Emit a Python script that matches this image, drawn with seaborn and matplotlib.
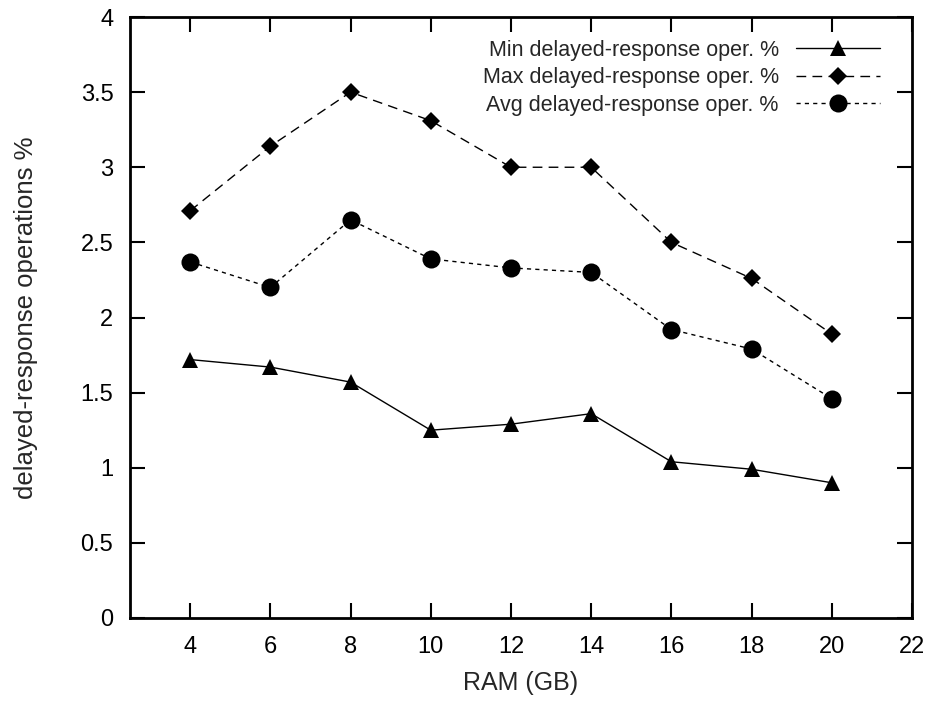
import matplotlib
matplotlib.use("Agg")
import matplotlib.pyplot as plt
import seaborn as sns
import pandas as pd

ram_gb = [4, 6, 8, 10, 12, 14, 16, 18, 20]
min_pct = [1.72, 1.67, 1.57, 1.25, 1.29, 1.36, 1.04, 0.99, 0.90]
max_pct = [2.71, 3.14, 3.50, 3.31, 3.00, 3.00, 2.50, 2.26, 1.89]
avg_pct = [2.37, 2.20, 2.65, 2.39, 2.33, 2.30, 1.92, 1.79, 1.46]
labels = ["Min delayed-response oper. %", "Max delayed-response oper. %",
          "Avg delayed-response oper. %"]
x_ticks = [4, 6, 8, 10, 12, 14, 16, 18, 20, 22]
y_ticks = [0, 0.5, 1, 1.5, 2, 2.5, 3, 3.5, 4]

FS_LEG = 15.5
FS_TICK = 17
FS_XLAB = 18
FS_YLAB = 18.5
sns.set_style("ticks")
plt.rcParams["font.family"] = ["Liberation Sans", "DejaVu Sans"]
plt.rcParams["font.size"] = FS_LEG

fig = plt.figure(figsize=(9.33, 7.02), dpi=100)
ax = fig.add_axes([130/933, 1 - 618/702, (912-130)/933, (618-17)/702])

df = pd.DataFrame({"ram": ram_gb, "min": min_pct, "max": max_pct, "avg": avg_pct})

specs = [
    ("min", labels[0], "^", 11, "-"),
    ("max", labels[1], "D", 9.5, (0, (7, 4.5))),
    ("avg", labels[2], "o", 13, (0, (3, 3))),
]
for col, lab, mk, ms, ls in specs:
    sns.lineplot(data=df, x="ram", y=col, ax=ax, color="black", marker=mk,
                 markersize=ms, markeredgewidth=0, linewidth=1.0,
                 linestyle=ls, label=lab)

ax.set_xlim(2.5, 22)
ax.set_ylim(0, 4)
ax.set_xticks(x_ticks)
ax.set_yticks(y_ticks)
ax.set_yticklabels(["0", "0.5", "1", "1.5", "2", "2.5", "3", "3.5", "4"])
ax.tick_params(direction="in", length=11, width=1.5, top=True, right=True,
               labelsize=FS_TICK, colors="black")
ax.tick_params(axis="x", pad=13)
ax.tick_params(axis="y", pad=12)
for s in ax.spines.values():
    s.set_linewidth(2)
    s.set_color("black")
    s.set_visible(True)

ax.set_xlabel("RAM (GB)", fontsize=FS_XLAB, labelpad=9)
ax.set_ylabel("delayed-response operations %", fontsize=FS_YLAB, labelpad=31)

leg = ax.legend(loc="upper right", bbox_to_anchor=(0.959, 0.962),
                frameon=False, markerfirst=False, handlelength=3.9,
                handletextpad=0.8, labelspacing=0.3, borderpad=0,
                borderaxespad=0, fontsize=FS_LEG)
for col in leg._legend_handle_box.get_children():
    col.align = "right"

fig.savefig("out.png", dpi=100)
